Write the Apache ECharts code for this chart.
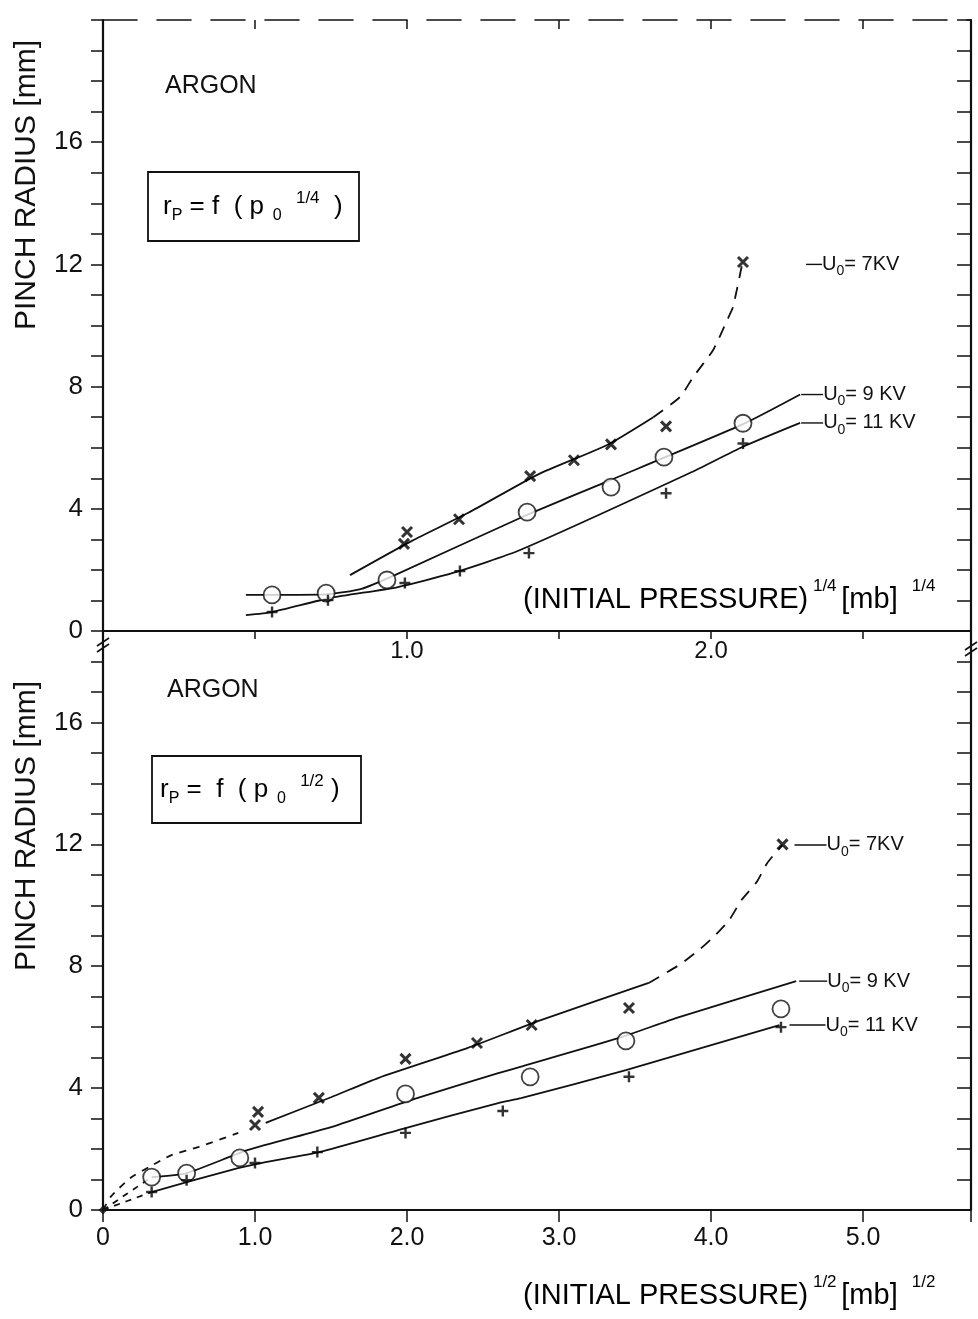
<!DOCTYPE html>
<html>
<head>
<meta charset="utf-8">
<script src="https://cdn.jsdelivr.net/npm/echarts/dist/echarts.min.js"></script>
<style>
html, body { margin: 0; padding: 0; background: #fff; }
#main { width: 978px; height: 1319px; }
</style>
</head>
<body>
<div id="main"></div>
<script>
// upper panel: x = (initial pressure)^1/4
var topCircleX = [0.556, 0.734, 0.934, 1.395, 1.671, 1.845, 2.105]
var topCircleY = [1.18, 1.24, 1.67, 3.89, 4.71, 5.69, 6.80]
var topCrossX = [1.0, 0.99, 1.171, 1.405, 1.549, 1.671, 1.852, 2.105]
var topCrossY = [3.24, 2.85, 3.66, 5.07, 5.59, 6.11, 6.70, 12.08]
var topPlusX = [0.556, 0.74, 0.993, 1.174, 1.401, 1.852, 2.105]
var topPlusY = [0.62, 1.01, 1.57, 1.96, 2.55, 4.51, 6.14]

// upper panel fitted curves
var topFit7X = [0.8125, 1.016, 1.2, 1.43, 1.658, 1.81]
var topFit7Y = [1.83, 2.95, 3.86, 5.12, 6.09, 7.0]
var topFit7DashX = [1.81, 1.898, 1.941, 2.007, 2.053, 2.072, 2.102]
var topFit7DashY = [7.0, 7.66, 8.31, 9.2, 10.18, 10.6, 12.0]
var topFit9X = [0.47, 0.734, 0.85, 0.96, 1.372, 1.645, 2.105, 2.293]
var topFit9Y = [1.18, 1.2, 1.38, 1.83, 3.70, 4.84, 6.77, 7.74]
var topFit11X = [0.47, 0.556, 0.747, 0.97, 1.151, 1.372, 1.93, 2.105, 2.293]
var topFit11Y = [0.52, 0.62, 1.08, 1.44, 1.90, 2.65, 5.17, 6.03, 6.81]

// lower panel: x = (initial pressure)^1/2
var botCircleX = [0.32, 0.55, 0.90, 1.99, 2.81, 3.44, 4.46]
var botCircleY = [1.08, 1.21, 1.71, 3.81, 4.37, 5.55, 6.60]
var botCrossX = [1.02, 1.0, 1.42, 1.99, 2.46, 2.82, 3.46, 4.47]
var botCrossY = [3.22, 2.79, 3.68, 4.96, 5.48, 6.07, 6.63, 12.0]
var botPlusX = [0.32, 0.55, 1.0, 1.41, 1.99, 2.63, 3.46, 4.46]
var botPlusY = [0.59, 0.98, 1.54, 1.90, 2.53, 3.25, 4.37, 6.0]
var originX = [0]
var originY = [0]

// lower panel fitted curves
var bot7DashX = [0, 0.05, 0.18, 0.30, 0.45, 0.63, 0.89]
var bot7DashY = [0, 0.43, 1.05, 1.4, 1.8, 2.07, 2.53]
var bot7X = [1.07, 1.5, 1.81, 2.4, 2.885, 3.59]
var bot7Y = [2.86, 3.7, 4.33, 5.32, 6.24, 7.45]
var bot7UpX = [3.59, 3.79, 3.92, 4.03, 4.12, 4.20, 4.30, 4.37, 4.47]
var bot7UpY = [7.45, 8.04, 8.53, 9.03, 9.52, 10.17, 10.76, 11.39, 11.98]
var bot9DashX = [0, 0.32]
var bot9DashY = [0, 1.08]
var bot9X = [0.32, 0.55, 0.955, 1.5, 2.05, 2.6, 3.39, 3.79, 4.56]
var bot9Y = [1.08, 1.21, 1.97, 2.72, 3.65, 4.49, 5.64, 6.33, 7.51]
var bot11DashX = [0, 0.32]
var bot11DashY = [0, 0.59]
var bot11X = [0.32, 0.84, 1.07, 1.42, 1.99, 2.6, 2.75, 3.44, 4.45]
var bot11Y = [0.59, 1.31, 1.57, 1.90, 2.69, 3.51, 3.67, 4.59, 6.07]

var topXMax = 2.855
var botXMax = 5.71
var topYMax = 20
var botYMax = 19
var yLabelValues = [0, 4, 8, 12, 16]
var topXLabelValues = [1, 2]
var botXLabelValues = [0, 1, 2, 3, 4, 5]
var voltLabels = ['7KV', '9 KV', '11 KV']

var FONT = 'Liberation Sans'
var ink = '#111'
var crossSym = 'path://M0,0L10,10M10,0L0,10'
var plusSym = 'path://M3.9,0L6.1,0L6.1,3.9L10,3.9L10,6.1L6.1,6.1L6.1,10L3.9,10L3.9,6.1L0,6.1L0,3.9L3.9,3.9Z'

function pairs (xs, ys) {
  return xs.map(function (x, i) { return [x, ys[i]] })
}

var chart = echarts.init(document.getElementById('main'))

function scatter (xi, yi, xs, ys, kind) {
  var s = { type: 'scatter', xAxisIndex: xi, yAxisIndex: yi, data: pairs(xs, ys), z: 5, silent: true }
  if (kind === 'circle') {
    s.symbol = 'circle'
    s.symbolSize = 17
    s.itemStyle = { color: '#fff', borderColor: ink, borderWidth: 1.8 }
  } else if (kind === 'cross') {
    s.symbol = crossSym
    s.symbolSize = 10
    s.itemStyle = { color: 'none', borderColor: '#000', borderWidth: 3 }
  } else if (kind === 'plus') {
    s.symbol = plusSym
    s.symbolSize = 11
    s.itemStyle = { color: '#000', borderWidth: 0 }
  } else {
    s.symbol = 'diamond'
    s.symbolSize = 9
    s.itemStyle = { color: ink }
  }
  return s
}

function voltRich (lead) {
  return {
    ld: { width: lead, height: 1.4, backgroundColor: ink },
    u: { fontSize: 20, fontFamily: FONT, color: ink, lineHeight: 28 },
    o: { fontSize: 14, fontFamily: FONT, color: ink, lineHeight: 13, verticalAlign: 'bottom' }
  }
}

function fit (xi, yi, xs, ys, dash, label, dist, lead) {
  var s = {
    type: 'line', xAxisIndex: xi, yAxisIndex: yi, data: pairs(xs, ys),
    symbol: 'none', smooth: 0.2, z: 3, silent: true,
    lineStyle: { color: ink, width: 1.8, type: dash || 'solid' }
  }
  if (label) {
    s.endLabel = {
      show: true,
      distance: dist,
      formatter: function () { return '{ld| }{u|U}{o|0}{u|= ' + label + '}' },
      rich: voltRich(lead)
    }
  }
  return s
}

function leftY (grid, max) {
  return {
    type: 'value', gridIndex: grid, position: 'left', min: 0, max: max, interval: 1,
    axisLine: { show: true, onZero: false, lineStyle: { color: ink, width: 2.2 } },
    axisTick: { show: true, inside: false, length: 12, lineStyle: { color: ink, width: 1.5 } },
    axisLabel: {
      margin: 20, color: ink, fontSize: 26, fontFamily: FONT,
      formatter: function (v) { return yLabelValues.indexOf(v) >= 0 ? String(v) : '' }
    },
    splitLine: { show: false }
  }
}

function rightY (grid, max) {
  return {
    type: 'value', gridIndex: grid, position: 'right', min: 0, max: max, interval: 1,
    axisLine: { show: true, onZero: false, lineStyle: { color: ink, width: 2.2 } },
    axisTick: { show: true, inside: true, length: 14, lineStyle: { color: ink, width: 1.5 } },
    axisLabel: { show: false },
    splitLine: { show: false }
  }
}

var richTitle = {
  m: { fontSize: 29, fontFamily: FONT, color: ink, lineHeight: 44 },
  sp: { fontSize: 17, fontFamily: FONT, color: ink, lineHeight: 18, verticalAlign: 'top' }
}
var richFormula = {
  m: { fontSize: 26, fontFamily: FONT, color: ink, lineHeight: 34 },
  sub: { fontSize: 16, fontFamily: FONT, color: ink, lineHeight: 14, verticalAlign: 'bottom' },
  sp: { fontSize: 17, fontFamily: FONT, color: ink, lineHeight: 16, verticalAlign: 'top' }
}

function breakMark (x, y) {
  return {
    type: 'group', x: x, y: y,
    children: [
      { type: 'line', shape: { x1: -6, y1: 4, x2: 6, y2: -4 }, style: { stroke: ink, lineWidth: 1.6 } },
      { type: 'line', shape: { x1: -6, y1: 10, x2: 6, y2: 2 }, style: { stroke: ink, lineWidth: 1.6 } }
    ]
  }
}

var option = {
  animation: false,
  backgroundColor: '#fff',
  grid: [
    { left: 103, top: 20, width: 868, height: 611 },
    { left: 103, top: 631, width: 868, height: 579 }
  ],
  xAxis: [
    {
      type: 'value', gridIndex: 0, position: 'bottom', min: 0, max: topXMax, interval: 0.5,
      axisLine: { show: true, onZero: false, lineStyle: { color: ink, width: 2.2 } },
      axisTick: { show: true, inside: false, length: 8, lineStyle: { color: ink, width: 1.5 } },
      axisLabel: {
        margin: 8, color: ink, fontSize: 24, fontFamily: FONT,
        formatter: function (v) { return topXLabelValues.indexOf(v) >= 0 ? v.toFixed(1) : '' }
      },
      splitLine: { show: false }
    },
    {
      type: 'value', gridIndex: 0, position: 'top', min: 0, max: topXMax, interval: 0.5,
      axisLine: { show: true, onZero: false, lineStyle: { color: ink, width: 1.6, type: [34, 20] } },
      axisTick: { show: true, inside: true, length: 9, lineStyle: { color: ink, width: 1.5 } },
      axisLabel: { show: false },
      splitLine: { show: false }
    },
    {
      type: 'value', gridIndex: 1, position: 'bottom', min: 0, max: botXMax, interval: 1,
      axisLine: { show: true, onZero: false, lineStyle: { color: ink, width: 2.2 } },
      axisTick: { show: true, inside: false, length: 12, lineStyle: { color: ink, width: 1.5 } },
      axisLabel: {
        margin: 16, color: ink, fontSize: 25, fontFamily: FONT,
        formatter: function (v) {
          if (botXLabelValues.indexOf(v) < 0) return ''
          return v === 0 ? '0' : v.toFixed(1)
        }
      },
      splitLine: { show: false }
    },
    {
      type: 'value', gridIndex: 1, position: 'top', min: 0, max: botXMax, interval: 1,
      axisLine: { show: false },
      axisTick: { show: true, inside: true, length: 8, lineStyle: { color: ink, width: 1.5 } },
      axisLabel: { show: false },
      splitLine: { show: false }
    }
  ],
  yAxis: [leftY(0, topYMax), rightY(0, topYMax), leftY(1, botYMax), rightY(1, botYMax)],
  series: [
    fit(0, 0, topFit7X, topFit7Y),
    fit(0, 0, topFit7DashX, topFit7DashY, [12, 9], voltLabels[0], 64, 16),
    fit(0, 0, topFit9X, topFit9Y, null, voltLabels[1], 1, 22),
    fit(0, 0, topFit11X, topFit11Y, null, voltLabels[2], 1, 22),
    scatter(0, 0, topCrossX, topCrossY, 'cross'),
    scatter(0, 0, topCircleX, topCircleY, 'circle'),
    scatter(0, 0, topPlusX, topPlusY, 'plus'),

    fit(2, 2, bot7DashX, bot7DashY, [7, 7]),
    fit(2, 2, bot7X, bot7Y),
    fit(2, 2, bot7UpX, bot7UpY, [12, 9], voltLabels[0], 12, 32),
    fit(2, 2, bot9DashX, bot9DashY, [6, 6]),
    fit(2, 2, bot9X, bot9Y, null, voltLabels[1], 3, 28),
    fit(2, 2, bot11DashX, bot11DashY, [6, 6]),
    fit(2, 2, bot11X, bot11Y, null, voltLabels[2], 10, 36),
    scatter(2, 2, botCrossX, botCrossY, 'cross'),
    scatter(2, 2, botCircleX, botCircleY, 'circle'),
    scatter(2, 2, botPlusX, botPlusY, 'plus'),
    scatter(2, 2, originX, originY, 'origin')
  ],
  graphic: [
    { type: 'text', x: 165, y: 86, style: { text: 'ARGON', font: '25px ' + FONT, fill: ink, verticalAlign: 'middle' } },
    { type: 'rect', shape: { x: 148, y: 172, width: 211, height: 69 }, style: { fill: 'none', stroke: ink, lineWidth: 1.8 } },
    {
      type: 'text', x: 163, y: 207,
      style: { text: '{m|r}{sub|P}{m| = f  ( p}{sub|  0}{sp|   1/4}{m|  )}', rich: richFormula, verticalAlign: 'middle' }
    },
    {
      type: 'text', x: 27, y: 185, rotation: Math.PI / 2,
      style: { text: 'PINCH RADIUS [mm]', font: '30px ' + FONT, fill: ink, align: 'center', verticalAlign: 'middle' }
    },
    {
      type: 'text', x: 523, y: 600,
      style: { text: '{m|(INITIAL PRESSURE)}{sp| 1/4 }{m|[mb]}{sp|   1/4}', rich: richTitle, verticalAlign: 'middle' }
    },

    { type: 'text', x: 167, y: 690, style: { text: 'ARGON', font: '25px ' + FONT, fill: ink, verticalAlign: 'middle' } },
    { type: 'rect', shape: { x: 152, y: 756, width: 209, height: 67 }, style: { fill: 'none', stroke: ink, lineWidth: 1.8 } },
    {
      type: 'text', x: 160, y: 790,
      style: { text: '{m|r}{sub|P}{m| =  f  ( p}{sub|  0}{sp|   1/2}{m| )}', rich: richFormula, verticalAlign: 'middle' }
    },
    {
      type: 'text', x: 27, y: 826, rotation: Math.PI / 2,
      style: { text: 'PINCH RADIUS [mm]', font: '30px ' + FONT, fill: ink, align: 'center', verticalAlign: 'middle' }
    },
    {
      type: 'text', x: 523, y: 1296,
      style: { text: '{m|(INITIAL PRESSURE)}{sp| 1/2 }{m|[mb]}{sp|   1/2}', rich: richTitle, verticalAlign: 'middle' }
    },
    breakMark(103, 642),
    breakMark(971, 646)
  ]
}

chart.setOption(option)
</script>
</body>
</html>
